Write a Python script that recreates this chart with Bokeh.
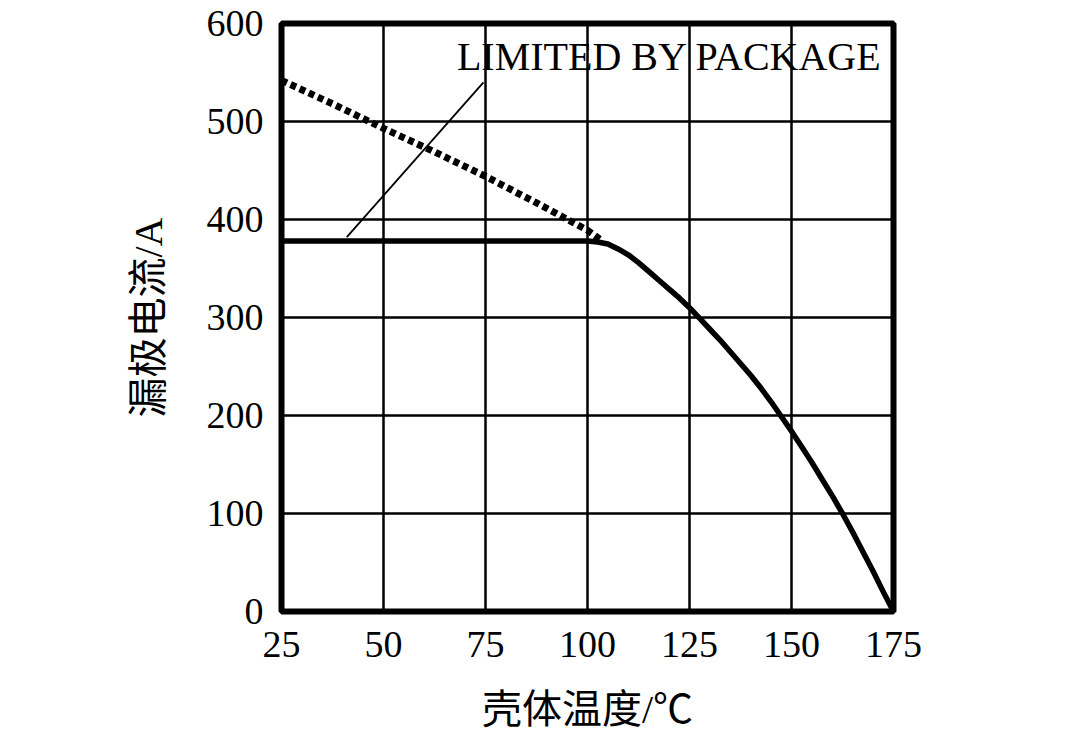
from bokeh.plotting import figure
from bokeh.models import Range1d, FixedTicker, Label
from bokeh.embed import file_html
from bokeh.resources import INLINE

# ---- data ----
x_ticks = [25, 50, 75, 100, 125, 150, 175]
y_ticks = [0, 100, 200, 300, 400, 500, 600]

# silicon-limited current (dotted, above package limit)
dotted_temp = [25, 37.5, 50, 62.5, 75, 87.5, 100, 103]
dotted_current = [542, 518, 493, 469, 444, 417, 389, 380]

# drain current curve (solid): package-limited flat part, then derating
solid_temp = [25, 100, 102.5, 105, 107.5, 110, 112.5, 115, 117.5, 120, 122.5, 125,
              127.5, 130, 132.5, 135, 137.5, 140, 142.5, 145, 147.5, 150, 152.5,
              155, 157.5, 160, 162.5, 165, 167.5, 170, 172.5, 175]
solid_current = [378, 378, 377, 375, 370, 364, 356, 347, 338, 329, 320, 310,
                 299, 288, 277, 265, 253, 241, 228, 214, 199, 184, 168,
                 152, 135, 118, 100, 81, 61, 41, 20, 0]

# leader line for annotation
leader_temp = [41, 74.5]
leader_current = [382, 540]

annot_text = "LIMITED BY PACKAGE"
x_title = "壳体温度/℃"
y_title = "漏极电流/A"

SERIF = "'Liberation Serif', 'Times New Roman', 'Noto Sans CJK SC'"

p = figure(width=1064, height=734, output_backend="svg", toolbar_location=None,
           x_range=Range1d(25, 175), y_range=Range1d(0, 600),
           min_border_left=281, min_border_right=171,
           min_border_top=23, min_border_bottom=122)

p.background_fill_color = "white"
p.border_fill_color = "white"
p.outline_line_color = "black"
p.outline_line_width = 6

# grid
for g in (p.xgrid, p.ygrid):
    g.grid_line_color = "black"
    g.grid_line_width = 2.5
    g.grid_line_alpha = 1.0
p.xgrid.ticker = FixedTicker(ticks=x_ticks)
p.ygrid.ticker = FixedTicker(ticks=y_ticks)

# axes
for ax in (p.xaxis[0], p.yaxis[0]):
    ax.axis_line_color = None
    ax.major_tick_line_color = None
    ax.minor_tick_line_color = None
    ax.major_tick_out = 0
    ax.major_tick_in = 0
    ax.major_label_text_font = SERIF
    ax.major_label_text_font_size = "38px"
    ax.major_label_text_color = "black"
    ax.axis_label_text_font = SERIF
    ax.axis_label_text_font_size = "40px"
    ax.axis_label_text_font_style = "normal"
    ax.axis_label_text_color = "black"

p.xaxis[0].ticker = FixedTicker(ticks=x_ticks)
p.yaxis[0].ticker = FixedTicker(ticks=y_ticks)
p.xaxis[0].axis_label = x_title
p.yaxis[0].axis_label = y_title
p.xaxis[0].major_label_standoff = 20
p.yaxis[0].major_label_standoff = 18
p.xaxis[0].axis_label_standoff = 27
p.yaxis[0].axis_label_standoff = 33

# curves
p.line(dotted_temp, dotted_current, line_color="black", line_width=7, line_dash="6 4")
p.line(solid_temp, solid_current, line_color="black", line_width=5.5, line_join="round")
p.line(leader_temp, leader_current, line_color="black", line_width=1.8)

p.add_layout(Label(x=68, y=566, text=annot_text, text_font=SERIF,
                   text_font_size="40px", text_color="black",
                   text_baseline="alphabetic", text_align="left"))

open("out.html", "w").write(file_html(p, INLINE))
